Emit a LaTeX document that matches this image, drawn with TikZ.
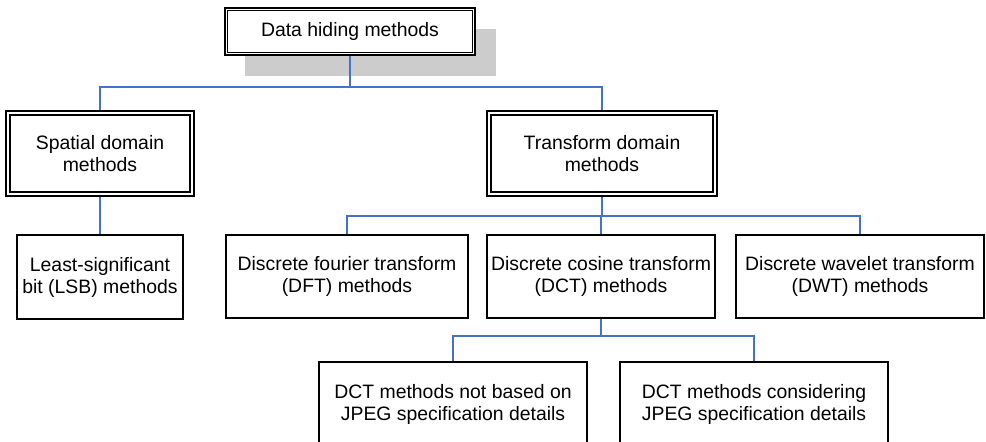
\documentclass[tikz,border=0pt]{standalone}
\usepackage{fontspec}
\setmainfont{Liberation Sans}
\definecolor{linkblue}{RGB}{68,114,196}
\definecolor{shadowgray}{RGB}{204,204,204}
\begin{document}
\begin{tikzpicture}[x=1pt,y=-1pt,
  box/.style={draw=black, line width=1.2pt, fill=white, inner sep=0pt,
    align=center, font=\fontsize{19.4}{22}\selectfont},
  rootbox/.style={box, line width=2.4pt},
  framebox/.style={box, line width=1.3pt},
  link/.style={draw=linkblue, line width=2pt},
  innerline/.style={draw=black},
]
\clip (0,0) rectangle (986,442);

% shadow behind the root box
\fill[shadowgray] (245,29) rectangle (496,76);

% root
\node[rootbox, minimum width=250pt, minimum height=47pt] (top) at (350,31.5) {Data hiding methods};
\draw[innerline, line width=1pt] ([xshift=3.4pt,yshift=-3.4pt]top.north west) rectangle ([xshift=-3.4pt,yshift=3.4pt]top.south east);

% second level
\node[framebox, minimum width=188pt, minimum height=85pt] (spatial) at (100,153.5) {Spatial domain\\methods};
\node[framebox, minimum width=230pt, minimum height=85pt] (transform) at (602,153.5) {Transform domain\\methods};
\foreach \n in {spatial,transform}{
  \draw[innerline, line width=1.8pt] ([xshift=5pt,yshift=-5pt]\n.north west) rectangle ([xshift=-5pt,yshift=5pt]\n.south east);
}

% third level
\node[box, minimum width=166pt, minimum height=84pt] (lsb) at (100,277) {Least-significant\\bit (LSB) methods};
\node[box, minimum width=242pt, minimum height=83pt] (dft) at (347,276.5) {Discrete fourier transform\\(DFT) methods};
\node[box, minimum width=228pt, minimum height=83pt] (dct) at (601,276.5) {Discrete cosine transform\\(DCT) methods};
\node[box, minimum width=248pt, minimum height=83pt] (dwt) at (860,276.5) {Discrete wavelet transform\\(DWT) methods};

% fourth level
\node[box, minimum width=268pt, minimum height=84pt] (nojpeg) at (453,404) {DCT methods not based on\\JPEG specification details};
\node[box, minimum width=268pt, minimum height=84pt] (jpeg) at (754,404) {DCT methods considering\\JPEG specification details};

% connectors
\path (top.south) ++(0,31) coordinate (bus1);
\draw[link] (top.south) -- (bus1) -| (spatial.north);
\draw[link] (bus1) -| (transform.north);

\draw[link] (spatial.south) -- (lsb.north);

\path (transform.south) ++(0,19) coordinate (bus2);
\draw[link] (transform.south) -- (bus2) -| (dft.north);
\draw[link] (bus2) -| (dwt.north);
\draw[link] (bus2) -| (dct.north);

\path (dct.south) ++(0,17) coordinate (bus3);
\draw[link] (dct.south) -- (bus3) -| (nojpeg.north);
\draw[link] (bus3) -| (jpeg.north);
\end{tikzpicture}
\end{document}
